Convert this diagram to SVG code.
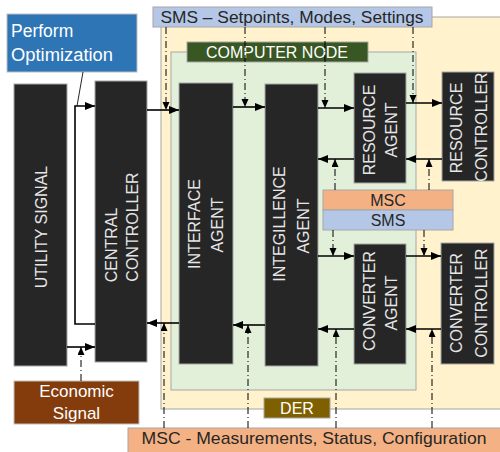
<svg xmlns="http://www.w3.org/2000/svg" width="500" height="452" viewBox="0 0 500 452">
<defs>
<marker id="ah" markerUnits="userSpaceOnUse" markerWidth="11" markerHeight="9" refX="10" refY="4" orient="auto"><path d="M0,0 L10,4 L0,8 z" fill="#000"/></marker>
<marker id="ahs" markerUnits="userSpaceOnUse" markerWidth="9" markerHeight="8" refX="8" refY="3.5" orient="auto"><path d="M0,0 L8,3.5 L0,7 z" fill="#000"/></marker>
</defs>
<style>
.blk{fill:#262626;stroke:#a6a6a6;stroke-width:1}
.bt{font-family:"Liberation Sans",Arial,sans-serif;font-size:16px;fill:#e6e6e6;text-anchor:middle}
.lbl{font-family:"Liberation Sans",Arial,sans-serif;text-anchor:middle}
.sol{stroke:#000;stroke-width:1.6;fill:none;marker-end:url(#ah)}
.dd{stroke:#000;stroke-width:1;fill:none;stroke-dasharray:7,3,1,3;marker-end:url(#ahs)}
</style>
<rect width="500" height="452" fill="#fff"/>
<g id="der-region">
<rect x="161" y="17" width="345" height="392" fill="#fff2cc" stroke="#a6a6a6" stroke-width="1"/>
</g>
<g id="computer-node-region">
<rect x="171" y="52" width="245" height="338" fill="#e2f0d9" stroke="#a6a6a6" stroke-width="1"/>
</g>
<g id="sms-top">
<rect x="153" y="7" width="279" height="20" fill="#b4c7e7" stroke="#a6a6a6" stroke-width="1"/>
<text class="lbl" x="292" y="23" font-size="17" fill="#262626" textLength="263" lengthAdjust="spacingAndGlyphs">SMS – Setpoints, Modes, Settings</text>
</g>
<g id="computer-node-label">
<rect x="187" y="42" width="181" height="20" fill="#385723" stroke="#a6a6a6" stroke-width="1"/>
<text class="lbl" x="277" y="58" font-size="16" fill="#fff" textLength="142" lengthAdjust="spacingAndGlyphs">COMPUTER NODE</text>
</g>
<g id="perform-optimization">
<rect x="7" y="14" width="130" height="58" fill="#2e75b6" stroke="#bfbfbf" stroke-width="1"/>
<text x="11" y="37" font-family="'Liberation Sans',Arial,sans-serif" font-size="17.5" fill="#fff">Perform</text>
<text x="11" y="61" font-family="'Liberation Sans',Arial,sans-serif" font-size="17.5" fill="#fff" textLength="102" lengthAdjust="spacingAndGlyphs">Optimization</text>
</g>
<g id="utility-signal">
<rect class="blk" x="14" y="84" width="53" height="282"/>
<text class="bt" transform="translate(47,227) rotate(-90)">UTILITY SIGNAL</text>
</g>
<g id="central-controller">
<rect class="blk" x="95" y="81" width="52" height="281"/>
<text class="bt" transform="translate(117,245) rotate(-90)">CENTRAL</text>
<text class="bt" transform="translate(138,227) rotate(-90)">CONTROLLER</text>
</g>
<g id="interface-agent">
<rect class="blk" x="179" y="83" width="54" height="281"/>
<text class="bt" transform="translate(200,224) rotate(-90)">INTERFACE</text>
<text class="bt" transform="translate(223,225) rotate(-90)">AGENT</text>
</g>
<g id="integillence-agent">
<rect class="blk" x="265" y="84" width="53" height="282"/>
<text class="bt" transform="translate(285,224) rotate(-90)">INTEGILLENCE</text>
<text class="bt" transform="translate(309,226) rotate(-90)">AGENT</text>
</g>
<g id="resource-agent">
<rect class="blk" x="354" y="73" width="52" height="110"/>
<text class="bt" transform="translate(375,130) rotate(-90)">RESOURCE</text>
<text class="bt" transform="translate(397,130) rotate(-90)">AGENT</text>
</g>
<g id="resource-controller">
<rect class="blk" x="442" y="72" width="52" height="109"/>
<text class="bt" transform="translate(462,128) rotate(-90)">RESOURCE</text>
<text class="bt" transform="translate(487,127) rotate(-90)">CONTROLLER</text>
</g>
<g id="converter-agent">
<rect class="blk" x="354" y="244" width="52" height="120"/>
<text class="bt" transform="translate(375,301) rotate(-90)">CONVERTER</text>
<text class="bt" transform="translate(397,303) rotate(-90)">AGENT</text>
</g>
<g id="converter-controller">
<rect class="blk" x="441" y="243" width="53" height="121"/>
<text class="bt" transform="translate(462,303) rotate(-90)">CONVERTER</text>
<text class="bt" transform="translate(487,303) rotate(-90)">CONTROLLER</text>
</g>
<g id="msc-sms-mid">
<rect x="323" y="190" width="130" height="20" fill="#f4b183" stroke="#a6a6a6" stroke-width="1"/>
<text class="lbl" x="388" y="206" font-size="16" fill="#262626">MSC</text>
<rect x="323" y="210" width="130" height="20" fill="#b4c7e7" stroke="#a6a6a6" stroke-width="1"/>
<text class="lbl" x="388" y="226" font-size="16" fill="#262626">SMS</text>
</g>
<g id="economic-signal">
<rect x="14" y="381" width="125" height="43" fill="#843c0c" stroke="#bfbfbf" stroke-width="1"/>
<text class="lbl" x="76.5" y="397" font-size="17" fill="#fff">Economic</text>
<text class="lbl" x="76.5" y="419" font-size="17" fill="#fff">Signal</text>
</g>
<g id="der-label">
<rect x="264" y="398" width="66" height="20" fill="#7f6000" stroke="#a6a6a6" stroke-width="1"/>
<text class="lbl" x="297" y="414" font-size="16" fill="#fff">DER</text>
</g>
<g id="msc-bottom">
<rect x="128" y="428" width="378" height="28" fill="#f4b183" stroke="#a6a6a6" stroke-width="1"/>
<text class="lbl" x="314" y="444" font-size="17" fill="#262626" textLength="345" lengthAdjust="spacingAndGlyphs">MSC - Measurements, Status, Configuration</text>
</g>
<g id="connectors">
<line x1="83" y1="72" x2="77" y2="106" stroke="#262626" stroke-width="1"/>
<polyline class="sol" points="95,324 75,324 75,106 95,106"/>
<line class="sol" x1="67" y1="347" x2="95" y2="347"/>
<line class="sol" x1="147" y1="110" x2="179" y2="110"/>
<line class="sol" x1="233" y1="107" x2="265" y2="107"/>
<line class="sol" x1="318" y1="108" x2="354" y2="108"/>
<line class="sol" x1="406" y1="103" x2="442" y2="103"/>
<line class="sol" x1="442" y1="159" x2="406" y2="159"/>
<line class="sol" x1="354" y1="159" x2="318" y2="159"/>
<line class="sol" x1="318" y1="256" x2="354" y2="256"/>
<line class="sol" x1="406" y1="256" x2="441" y2="256"/>
<line class="sol" x1="441" y1="329" x2="406" y2="329"/>
<line class="sol" x1="354" y1="329" x2="318" y2="329"/>
<line class="sol" x1="265" y1="325" x2="233" y2="325"/>
<line class="sol" x1="179" y1="323" x2="147" y2="323"/>
<line class="dd" x1="166" y1="27" x2="166" y2="110"/>
<line class="dd" x1="245" y1="27" x2="245" y2="107"/>
<line class="dd" x1="325" y1="27" x2="325" y2="108"/>
<line class="dd" x1="413" y1="27" x2="413" y2="103"/>
<line class="dd" x1="335" y1="190" x2="335" y2="159"/>
<line class="dd" x1="429" y1="190" x2="429" y2="159"/>
<line class="dd" x1="333" y1="230" x2="333" y2="256"/>
<line class="dd" x1="424" y1="230" x2="424" y2="256"/>
<line class="dd" x1="164" y1="428" x2="164" y2="323"/>
<line class="dd" x1="248" y1="428" x2="248" y2="325"/>
<line class="dd" x1="336" y1="428" x2="336" y2="329"/>
<line class="dd" x1="432" y1="428" x2="432" y2="329"/>
<line class="dd" x1="81" y1="381" x2="81" y2="347"/>
</g>
</svg>
